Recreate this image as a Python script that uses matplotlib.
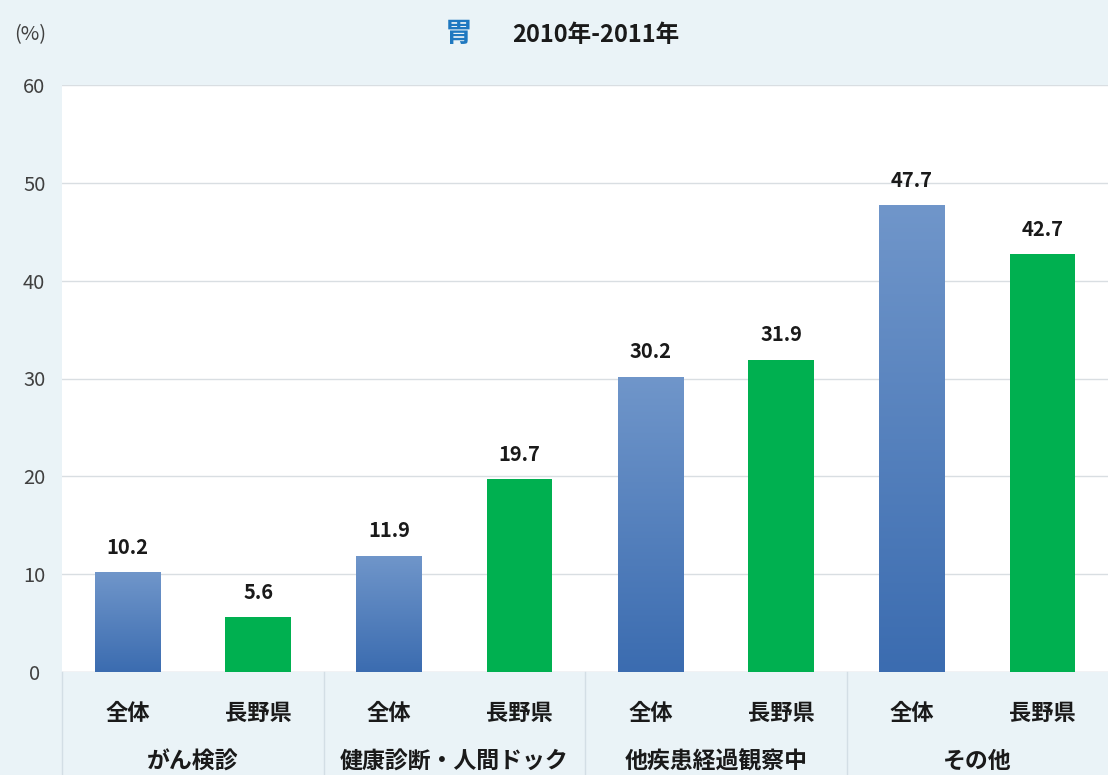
import matplotlib.pyplot as plt
import matplotlib.transforms as mtransforms
from matplotlib.colors import LinearSegmentedColormap
import numpy as np

plt.rcParams['font.family'] = ['Noto Sans CJK JP', 'DejaVu Sans']

# data
groups = ['がん検診', '健康診断・人間ドック', '他疾患経過観察中', 'その他']
series = ['全体', '長野県']
zentai = [10.2, 11.9, 30.2, 47.7]
nagano = [5.6, 19.7, 31.9, 42.7]

BG = '#EAF3F7'
BLUE_TOP = '#7096CA'
BLUE_BOT = '#3B6CB0'
GREEN = '#00B050'

fig = plt.figure(figsize=(11.08, 7.75), dpi=100, facecolor=BG)
ax = fig.add_axes([62 / 1108, 103 / 775, 1 - 62 / 1108, 587 / 775])
ax.set_facecolor('white')

values = []
for a, b in zip(zentai, nagano):
    values += [a, b]
xs = np.arange(len(values))

# vertical gradient for the blue bars
grad = np.linspace(0, 1, 256).reshape(-1, 1)
cmap = LinearSegmentedColormap.from_list('bg', [BLUE_BOT, BLUE_TOP])

for x, v in zip(xs, values):
    if x % 2 == 0:
        bar = ax.bar(x, v, width=0.5, color=BLUE_BOT, zorder=2)[0]
        im = ax.imshow(grad, extent=(x - 0.25, x + 0.25, 0, v), origin='lower',
                       cmap=cmap, aspect='auto', zorder=3)
        im.set_clip_path(bar)
    else:
        ax.bar(x, v, width=0.5, color=GREEN, zorder=2)
    ax.text(x, v + 1.5, f'{v:.1f}', ha='center', va='bottom',
            fontsize=14.5, fontweight='bold', color='#1a1a1a', zorder=4)

ax.set_xlim(-0.5, len(values) - 0.5)
ax.set_ylim(0, 60)
ax.set_yticks(range(0, 61, 10))
ax.yaxis.grid(True, color='#D9DEE2', linewidth=1)
ax.set_axisbelow(True)
ax.set_xticks([])
ax.tick_params(axis='y', length=0, labelsize=14.5, labelcolor='#404040', pad=20)
for lab in ax.get_yticklabels():
    lab.set_horizontalalignment('center')
for s in ax.spines.values():
    s.set_visible(False)
ax.axhline(0, color='#D9DEE2', linewidth=1, zorder=1)

trans = mtransforms.blended_transform_factory(ax.transData, ax.transAxes)
for x in xs:
    ax.text(x, -0.07, series[x % 2], transform=trans, ha='center', va='center',
            fontsize=16, fontweight='bold', color='#1a1a1a')
for i, g in enumerate(groups):
    ax.text(2 * i + 0.5, -0.153, g, transform=trans, ha='center', va='center',
            fontsize=16.5, fontweight='bold', color='#1a1a1a')
for sx in [-0.5, 1.5, 3.5, 5.5]:
    ax.plot([sx, sx], [0, -0.2], transform=trans, color='#D3DEE5',
            linewidth=1, clip_on=False)

fig.text(30 / 1108, 1 - 35 / 775, '(%)', ha='center', va='center',
         fontsize=14.5, color='#404040')
fig.text(473 / 1108, 1 - 34 / 775, '胃', ha='right', va='center',
         fontsize=20, fontweight='bold', color='#1F78C0')
fig.text(512 / 1108, 1 - 35 / 775, '2010年-2011年', ha='left', va='center',
         fontsize=17, fontweight='bold', color='#1a1a1a')

fig.savefig('out.png', dpi=100, facecolor=BG)
